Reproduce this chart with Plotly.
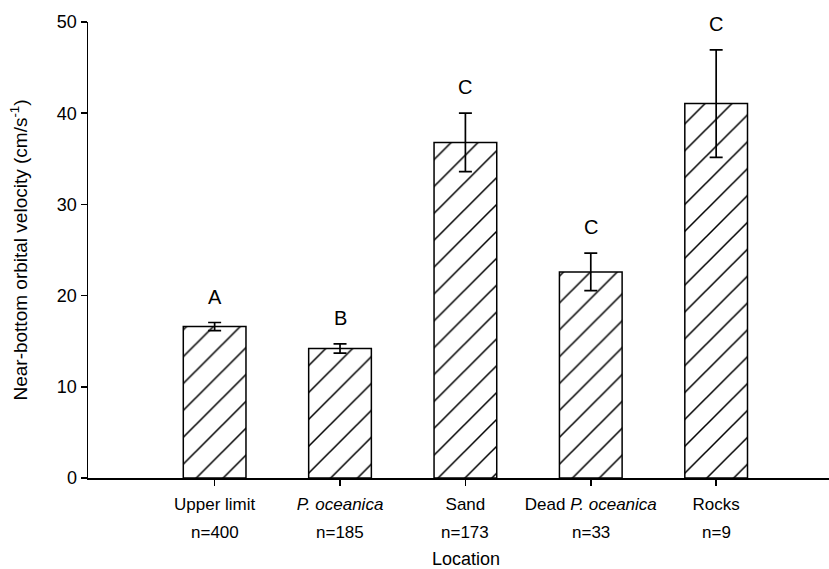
import plotly.graph_objects as go

locations = ["Upper limit", "<i>P. oceanica</i>", "Sand", "Dead <i>P. oceanica</i>", "Rocks"]
sample_sizes = ["n=400", "n=185", "n=173", "n=33", "n=9"]
mean_velocity = [16.6, 14.2, 36.8, 22.6, 41.05]
velocity_err = [0.45, 0.5, 3.2, 2.05, 5.9]
group_letters = ["A", "B", "C", "C", "C"]
y_ticks = [0, 10, 20, 30, 40, 50]

FONT = "Arial, Liberation Sans, sans-serif"

fig = go.Figure()
fig.add_trace(go.Bar(
    x=list(range(len(locations))),
    y=mean_velocity,
    marker=dict(
        color="white",
        line=dict(color="black", width=1.5),
        pattern=dict(shape="/", fgcolor="black", bgcolor="white", fgopacity=1,
                     size=19, solidity=0.08),
    ),
    error_y=dict(type="data", array=velocity_err, visible=True, color="black",
                 thickness=1.7, width=6.5),
    width=0.5,
    showlegend=False,
    hoverinfo="skip",
))

for i, (v, e, letter, n) in enumerate(zip(mean_velocity, velocity_err, group_letters, sample_sizes)):
    fig.add_annotation(x=i, y=v + e, text=letter, showarrow=False, yshift=26,
                       yanchor="middle", font=dict(size=20, color="black", family=FONT))
    fig.add_annotation(x=i, y=0, yref="y", text=n, showarrow=False, yshift=-54,
                       yanchor="middle", font=dict(size=17, color="black", family=FONT))

fig.add_annotation(x=0.51, xref="paper", y=-0.178, yref="paper", text="Location",
                   showarrow=False, yanchor="middle",
                   font=dict(size=18, color="black", family=FONT))

fig.update_layout(
    width=829, height=569,
    margin=dict(l=88, r=0, t=22, b=91),
    plot_bgcolor="white", paper_bgcolor="white",
    font=dict(family=FONT, color="black", size=17),
    xaxis=dict(
        tickmode="array", tickvals=list(range(len(locations))), ticktext=locations,
        range=[-1.01, 4.9], showline=True, linecolor="black", linewidth=1.5,
        ticks="outside", ticklen=6, tickwidth=1.5, tickcolor="black",
        showgrid=False, zeroline=False, tickfont=dict(size=17),
        ticklabelstandoff=4,
    ),
    yaxis=dict(
        range=[0, 50], tickvals=y_ticks, showline=True, linecolor="black", linewidth=1.5,
        ticks="outside", ticklen=6, tickwidth=1.5, tickcolor="black",
        showgrid=False, zeroline=False, tickfont=dict(size=18),
        title=dict(text="Near-bottom orbital velocity (cm/s<sup>-1</sup>)",
                   font=dict(size=19), standoff=24),
    ),
)

fig.write_html("out.html",
               config={"displayModeBar": False, "staticPlot": True},
               post_script="document.body.style.margin='0';document.body.style.overflow='hidden';")
